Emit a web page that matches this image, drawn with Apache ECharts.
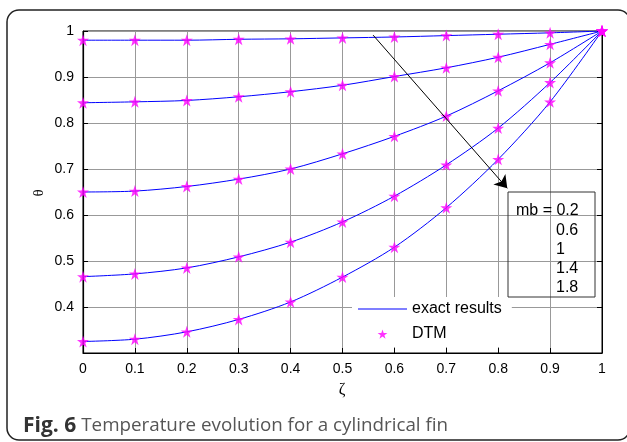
<!DOCTYPE html>
<html>
<head>
<meta charset="utf-8">
<script src="https://cdn.jsdelivr.net/npm/echarts@6/dist/echarts.min.js"></script>
<style>html,body{margin:0;padding:0;background:#fff;}#c{width:627px;height:442px;}</style>
</head>
<body>
<div id="c"></div>
<script>
// ---- data ----
const zeta = [0, 0.1, 0.2, 0.3, 0.4, 0.5, 0.6, 0.7, 0.8, 0.9, 1];
const mbLabels = ['0.2', '0.6', '1', '1.4', '1.8'];
const theta_mb02 = [0.980, 0.980, 0.980, 0.982, 0.983, 0.985, 0.987, 0.990, 0.993, 0.996, 1];
const theta_mb06 = [0.844, 0.846, 0.849, 0.857, 0.868, 0.882, 0.901, 0.920, 0.943, 0.971, 1];
const theta_mb10 = [0.650, 0.652, 0.662, 0.678, 0.700, 0.733, 0.771, 0.815, 0.870, 0.931, 1];
const theta_mb14 = [0.466, 0.472, 0.485, 0.509, 0.541, 0.585, 0.641, 0.709, 0.789, 0.888, 1];
const theta_mb18 = [0.325, 0.330, 0.346, 0.373, 0.411, 0.465, 0.530, 0.616, 0.721, 0.846, 1];
const arrowStart = [0.559, 0.991];
const arrowEnd = [0.8175, 0.658];
const xName = 'ζ';
const yName = 'θ';
const captionBold = 'Fig. 6';
const captionText = 'Temperature evolution for a cylindrical fin';

const curves = [theta_mb02, theta_mb06, theta_mb10, theta_mb14, theta_mb18];
const pairs = arr => zeta.map((z, i) => [z, arr[i]]);
const STAR_D = 'M50,0 L61.8,35.4 L99,35.4 L69,57.3 L80.4,92.7 L50,70.8 L19.6,92.7 L31,57.3 L1,35.4 L38.2,35.4 Z';
const STAR = 'path://' + STAR_D;
const STAR_LEGEND = 'path://M-22,-24 L-22,-24 ' + STAR_D + ' M122,116 L122,116';
const LINE_ICON = 'path://M0,0 L0,0 M0,6.6 L49,6.6 L49,7.6 L0,7.6 Z M49,14 L49,14';
const FONT = 'Liberation Sans';

const series = [];
curves.forEach((c, k) => {
  series.push({
    name: 'exact results', type: 'line', data: pairs(c), symbol: 'none',
    smooth: 0.3,
    lineStyle: { color: '#0000ff', width: 1 }, itemStyle: { color: '#0000ff' },
    z: 3,
    markLine: k === 0 ? {
      silent: true, symbol: ['none', 'arrow'], symbolSize: 12,
      label: { show: false },
      lineStyle: { color: '#000', width: 1, type: 'solid' },
      data: [[{ coord: arrowStart }, { coord: arrowEnd }]]
    } : undefined
  });
});
curves.forEach(c => {
  series.push({
    name: 'DTM', type: 'scatter', data: pairs(c), symbol: STAR, symbolSize: 12,
    itemStyle: { color: '#ff00ff' }, z: 4
  });
});

const chart = echarts.init(document.getElementById('c'));
const gridL = 83, gridT = 31, gridR = 25, gridB = 89;
chart.setOption({
  animation: false,
  backgroundColor: '#fff',
  textStyle: { fontFamily: FONT },
  grid: { left: gridL, top: gridT, right: gridR, bottom: gridB, show: true, borderColor: '#000', borderWidth: 1, backgroundColor: 'transparent' },
  xAxis: {
    type: 'value', min: 0, max: 1, interval: 0.1,
    axisLine: { lineStyle: { color: '#000', width: 1.2 } },
    axisTick: { inside: true, length: 5, lineStyle: { color: '#000' } },
    axisLabel: { color: '#000', fontSize: 14, margin: 9, fontFamily: FONT },
    splitLine: { show: true, lineStyle: { color: '#999', width: 1 } }
  },
  yAxis: [{
    type: 'value', min: 0.3, max: 1, interval: 0.1,
    axisLine: { show: true, lineStyle: { color: '#000', width: 1.2 } },
    axisTick: { show: true, inside: true, length: 5, lineStyle: { color: '#000' } },
    axisLabel: {
      color: '#000', fontSize: 14, margin: 9, fontFamily: FONT,
      formatter: v => Math.abs(v - 0.3) < 1e-9 ? '' : String(+v.toFixed(1))
    },
    splitLine: { show: true, lineStyle: { color: '#999', width: 1 } }
  }, {
    type: 'value', min: 0.3, max: 1, interval: 0.1, position: 'right',
    axisLine: { show: true, lineStyle: { color: '#000', width: 1 } },
    axisTick: { show: true, inside: true, length: 5, lineStyle: { color: '#000' } },
    axisLabel: { show: false }, splitLine: { show: false }
  }],
  legend: {
    data: [
      { name: 'exact results', icon: LINE_ICON, itemStyle: { color: '#0000ff' } },
      { name: 'DTM', icon: STAR_LEGEND }
    ],
    orient: 'vertical',
    left: 352, top: 297, backgroundColor: '#fff',
    padding: [4, 10, 5, 6], itemWidth: 49, itemHeight: 14, itemGap: 9,
    textStyle: { fontSize: 16, color: '#000', fontFamily: FONT }, selectedMode: false
  },
  series: series,
  graphic: [
    { type: 'rect', shape: { x: 7, y: 10, width: 623, height: 430, r: 12 }, style: { fill: 'none', stroke: '#222', lineWidth: 1.5 }, silent: true, z: 10 },
    { type: 'text', x: 342, y: 390, style: { text: xName, fontSize: 16, fontFamily: 'Liberation Serif', fill: '#000', align: 'center', verticalAlign: 'middle' }, z: 10 },
    { type: 'text', x: 39, y: 193, rotation: Math.PI / 2, style: { text: yName, fontSize: 15, fontFamily: 'Liberation Serif', fill: '#000', align: 'center', verticalAlign: 'middle' }, z: 10 },
    { type: 'rect', shape: { x: 508, y: 192, width: 87, height: 105 }, style: { fill: 'none', stroke: '#333', lineWidth: 1 }, z: 10 },
    { type: 'text', x: 516, y: 211, style: { text: 'mb = ' + mbLabels[0], fontSize: 16, fontFamily: FONT, fill: '#000', verticalAlign: 'middle' }, z: 10 },
    { type: 'text', x: 556, y: 231, style: { text: mbLabels[1], fontSize: 16, fontFamily: FONT, fill: '#000', verticalAlign: 'middle' }, z: 10 },
    { type: 'text', x: 556, y: 250, style: { text: mbLabels[2], fontSize: 16, fontFamily: FONT, fill: '#000', verticalAlign: 'middle' }, z: 10 },
    { type: 'text', x: 556, y: 269, style: { text: mbLabels[3], fontSize: 16, fontFamily: FONT, fill: '#000', verticalAlign: 'middle' }, z: 10 },
    { type: 'text', x: 556, y: 288, style: { text: mbLabels[4], fontSize: 16, fontFamily: FONT, fill: '#000', verticalAlign: 'middle' }, z: 10 },
    { type: 'text', x: 23, y: 426, style: {
        text: '{b|' + captionBold + '}{n|' + captionText + '}', verticalAlign: 'middle',
        rich: {
          b: { fontFamily: 'Open Sans', fontWeight: 'bold', fontSize: 21, fill: '#333' },
          n: { fontFamily: 'Open Sans', fontSize: 18.8, fill: '#555', padding: [0, 0, 0, 5] }
        } }, z: 10 }
  ]
});
</script>
</body>
</html>
